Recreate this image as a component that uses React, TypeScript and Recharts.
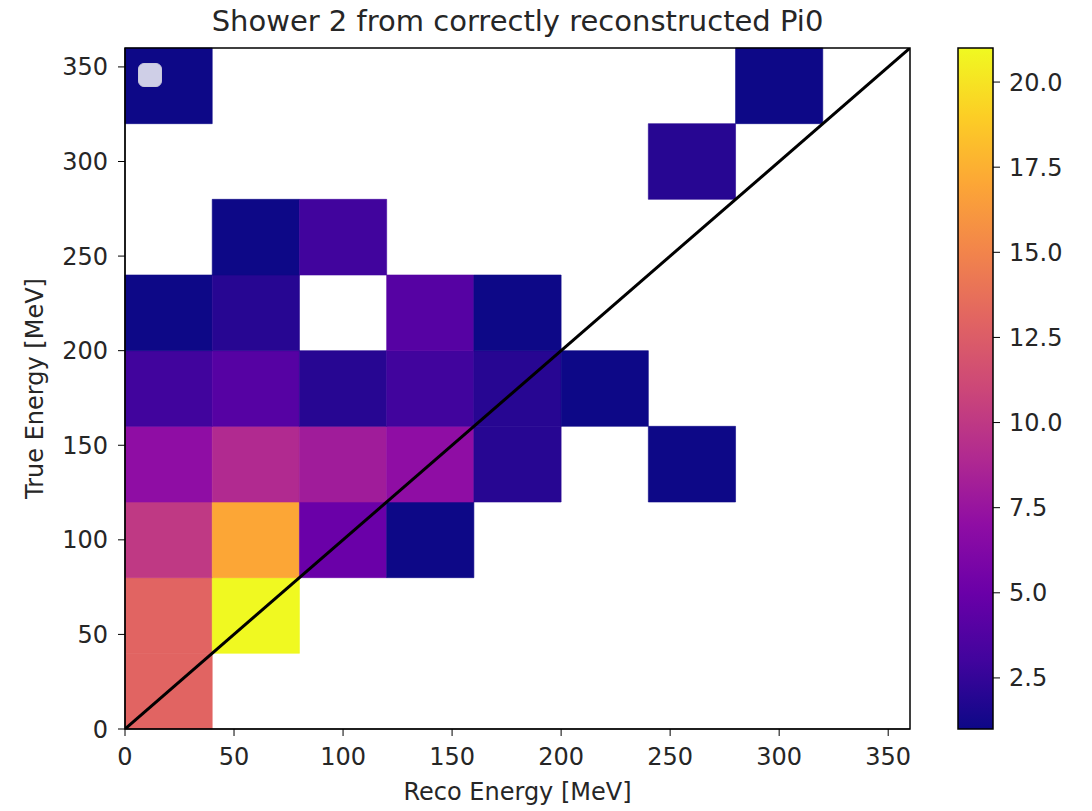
import React from 'react';
import { ComposedChart, XAxis, YAxis, Line, ReferenceArea, Label } from 'recharts';

// bin edges (MeV), 40 MeV bins
const xEdges = [0, 40, 80, 120, 160, 200, 240, 280, 320, 360];
const yEdges = [0, 40, 80, 120, 160, 200, 240, 280, 320, 360];

// counts per true-energy row (bottom to top), one value per reco bin; 0 = empty
const row0 = [13, 0, 0, 0, 0, 0, 0, 0, 0];
const row1 = [13, 21, 0, 0, 0, 0, 0, 0, 0];
const row2 = [10, 17, 5, 1, 0, 0, 0, 0, 0];
const row3 = [7, 9, 8, 7, 2, 0, 1, 0, 0];
const row4 = [3, 4, 2, 3, 2, 1, 0, 0, 0];
const row5 = [1, 2, 0, 4, 1, 0, 0, 0, 0];
const row6 = [0, 1, 3, 0, 0, 0, 0, 0, 0];
const row7 = [0, 0, 0, 0, 0, 0, 2, 0, 0];
const row8 = [1, 0, 0, 0, 0, 0, 0, 1, 0];
const counts = [row0, row1, row2, row3, row4, row5, row6, row7, row8];

const axisTicks = [0, 50, 100, 150, 200, 250, 300, 350];
const cbarTicks = [2.5, 5, 7.5, 10, 12.5, 15, 17.5, 20];
const vmin = 1;
const vmax = 21;

const diagonal = [{ x: 0, y: 0 }, { x: 360, y: 360 }];

const plasma = ['#0d0887', '#41049d', '#6a00a8', '#8f0da4', '#b12a90', '#cc4778', '#e16462', '#f2844b', '#fca636', '#fcce25', '#f0f921'];

function hex(c: string) {
  return [1, 3, 5].map((i) => parseInt(c.slice(i, i + 2), 16));
}

function colorFor(v: number) {
  const t = Math.min(1, Math.max(0, (v - vmin) / (vmax - vmin))) * (plasma.length - 1);
  const i = Math.min(plasma.length - 2, Math.floor(t));
  const f = t - i;
  const a = hex(plasma[i]);
  const b = hex(plasma[i + 1]);
  const rgb = a.map((c, k) => Math.round(c + (b[k] - c) * f));
  return `rgb(${rgb.join(',')})`;
}

const font = '"DejaVu Sans", sans-serif';
const tickStyle = { fontSize: 24, fill: '#262626', fontFamily: font };

export default function App() {
  const cells: React.ReactNode[] = [];
  counts.forEach((row, j) =>
    row.forEach((v, i) => {
      if (v > 0) {
        const c = colorFor(v);
        cells.push(
          <ReferenceArea key={`c${i}-${j}`} x1={xEdges[i]} x2={xEdges[i + 1]} y1={yEdges[j]} y2={yEdges[j + 1]}
            fill={c} fillOpacity={1} stroke={c} strokeWidth={0.6} />
        );
      }
    })
  );

  return (
    <div style={{ position: 'absolute', left: 0, top: 0, width: 1092, height: 811, background: '#fff', fontFamily: font }}>
      <div style={{ position: 'absolute', left: 125, width: 785, top: 4, textAlign: 'center', fontSize: 29, color: '#262626' }}>
        Shower 2 from correctly reconstructed Pi0
      </div>
      <div style={{ position: 'absolute', left: 0, top: 0 }}>
        <ComposedChart width={920} height={811} data={diagonal} margin={{ top: 48, right: 10, left: 0, bottom: 2 }}>
          <XAxis dataKey="x" type="number" domain={[0, 360]} ticks={axisTicks} allowDataOverflow
            height={80} tickSize={7} tickMargin={12} tick={tickStyle} stroke="#000" tickLine={{ stroke: '#000' }}>
            <Label content={({ viewBox }: any) => (
              <text x={viewBox.x + viewBox.width / 2} y={viewBox.y + 63} textAnchor="middle" dominantBaseline="central"
                fontSize={24} fill="#262626" fontFamily={font}>Reco Energy [MeV]</text>
            )} />
          </XAxis>
          <YAxis dataKey="y" type="number" domain={[0, 360]} ticks={axisTicks} allowDataOverflow
            width={125} tickSize={7} tickMargin={10} tick={tickStyle} stroke="#000" tickLine={{ stroke: '#000' }}>
            <Label content={({ viewBox }: any) => (
              <text x={35} y={viewBox.y + viewBox.height / 2} textAnchor="middle" dominantBaseline="central"
                transform={`rotate(-90 35 ${viewBox.y + viewBox.height / 2})`}
                fontSize={24} fill="#262626" fontFamily={font}>True Energy [MeV]</text>
            )} />
          </YAxis>
          {cells}
          <Line dataKey="y" stroke="#000" strokeWidth={3} dot={false} isAnimationActive={false} />
          <ReferenceArea x1={0} x2={360} y1={0} y2={360} fill="none" stroke="#000" strokeWidth={1.5} />
        </ComposedChart>
      </div>
      <div style={{ position: 'absolute', left: 138, top: 63, width: 24, height: 24, borderRadius: 6,
        background: '#cfcfe7', border: '1px solid #c8c8dc', boxSizing: 'border-box' }} />
      <div style={{ position: 'absolute', left: 900, top: 0 }}>
        <ComposedChart width={192} height={811} data={diagonal} margin={{ top: 48, right: 0, left: 58, bottom: 82 }}>
          <defs>
            <linearGradient id="plasmaGrad" x1="0" y1="1" x2="0" y2="0">
              {plasma.map((c, i) => (
                <stop key={c} offset={`${(i / (plasma.length - 1)) * 100}%`} stopColor={c} />
              ))}
            </linearGradient>
          </defs>
          <XAxis dataKey="x" type="number" domain={[0, 360]} hide />
          <YAxis orientation="right" type="number" domain={[vmin, vmax]} ticks={cbarTicks} allowDataOverflow
            width={99} tickSize={7} tickMargin={9} tick={tickStyle} stroke="#000" tickLine={{ stroke: '#000' }}
            tickFormatter={(v: number) => v.toFixed(1)} axisLine={false} />
          <ReferenceArea x1={0} x2={360} y1={vmin} y2={vmax} fill="url(#plasmaGrad)" fillOpacity={1} stroke="#000" strokeWidth={1.5} />
        </ComposedChart>
      </div>
    </div>
  );
}
